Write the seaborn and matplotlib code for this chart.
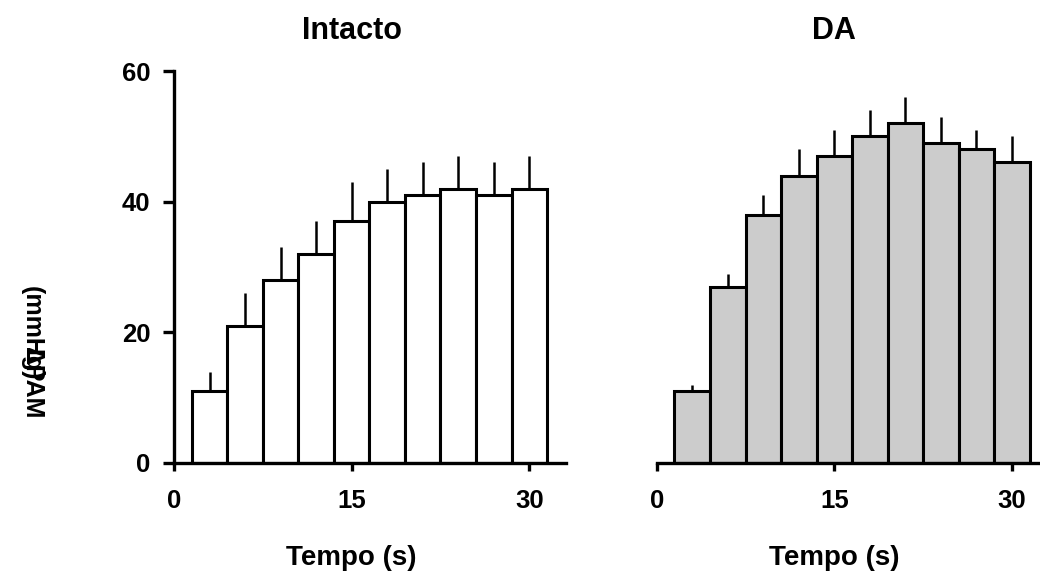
import numpy as np
import pandas as pd
import matplotlib
matplotlib.use("Agg")
import matplotlib.pyplot as plt
import seaborn as sns
from matplotlib import transforms

# ---- data ----
tempo = [3, 6, 9, 12, 15, 18, 21, 24, 27, 30]
intacto_mean = [11, 21, 28, 32, 37, 40, 41, 42, 41, 42]
intacto_sem = [3, 5, 5, 5, 6, 5, 5, 5, 5, 5]
da_mean = [11, 27, 38, 44, 47, 50, 52, 49, 48, 46]
da_sem = [1, 2, 3, 4, 4, 4, 4, 4, 3, 4]
titles = ["Intacto", "DA"]
xticks = [0, 15, 30]
yticks = [0, 20, 40, 60]
xlabel = "Tempo (s)"
ylabel_top = "(mmHg)"
ylabel_bottom = "ΔPAM"

sns.set_style("ticks")
plt.rcParams["font.family"] = ["Liberation Sans", "DejaVu Sans"]
plt.rcParams["font.weight"] = "bold"
plt.rcParams["text.color"] = "black"
plt.rcParams["axes.edgecolor"] = "black"
plt.rcParams["xtick.color"] = "black"
plt.rcParams["ytick.color"] = "black"
plt.rcParams["axes.labelcolor"] = "black"

W, H = 1040, 571
fig = plt.figure(figsize=(W / 100, H / 100), dpi=100)

xmax = 33.1
ax_w = 392 / W
ax_h = 392 / H
bottom = 1 - 463 / H
ax1 = fig.add_axes([174 / W, bottom, ax_w, ax_h])
ax2 = fig.add_axes([656.7 / W, bottom, ax_w, ax_h])

lw_spine = 2.4
panels = [
    (ax1, intacto_mean, intacto_sem, "white", titles[0]),
    (ax2, da_mean, da_sem, "#cccccc", titles[1]),
]
for ax, mean, sem, color, title in panels:
    df = pd.DataFrame({"t": tempo, "v": mean})
    sns.barplot(data=df, x="t", y="v", native_scale=True, width=1.0,
                color=color, edgecolor="black", linewidth=2.2,
                errorbar=None, saturation=1, ax=ax, zorder=2)
    ax.errorbar(tempo, mean, yerr=[np.zeros(len(sem)), sem], fmt="none",
                ecolor="black", elinewidth=1.8, capsize=0, zorder=1)
    ax.set_xlim(0, xmax)
    ax.set_ylim(0, 60)
    ax.set_xticks(xticks)
    ax.set_xticklabels([str(t) for t in xticks])
    ax.set_xlabel("")
    ax.set_ylabel("")
    for s in ["top", "right"]:
        ax.spines[s].set_visible(False)
    ax.spines["bottom"].set_linewidth(lw_spine)
    ax.spines["left"].set_linewidth(lw_spine)
    ax.tick_params(axis="x", length=5.8, width=lw_spine, pad=13,
                   labelsize=18.5, direction="out", colors="black")
    ax.tick_params(axis="y", length=8, width=lw_spine, pad=9,
                   labelsize=18.5, direction="out", colors="black")
    for lab in ax.get_xticklabels() + ax.get_yticklabels():
        lab.set_fontweight("bold")
    trans = transforms.blended_transform_factory(ax.transData, ax.transAxes)
    ax.text(15, (463 - 39) / 392, title, transform=trans, ha="center",
            va="baseline", fontsize=22, fontweight="bold", color="black")
    ax.text(15, (463 - 565) / 392, xlabel, transform=trans, ha="center",
            va="baseline", fontsize=20, fontweight="bold", color="black")

ax1.set_yticks(yticks)
ax1.set_yticklabels([str(t) for t in yticks])
for lab in ax1.get_yticklabels():
    lab.set_fontweight("bold")
ax2.spines["left"].set_visible(False)
ax2.set_yticks([])

fig.text(32 / W, 1 - 333 / H, ylabel_top, rotation=-90, ha="center",
         va="center", fontsize=18, fontweight="bold", color="black")
fig.text(32 / W, 1 - 383 / H, ylabel_bottom, rotation=-90, ha="center",
         va="center", fontsize=18, fontweight="bold", color="black")

fig.savefig("out.png", dpi=100)
